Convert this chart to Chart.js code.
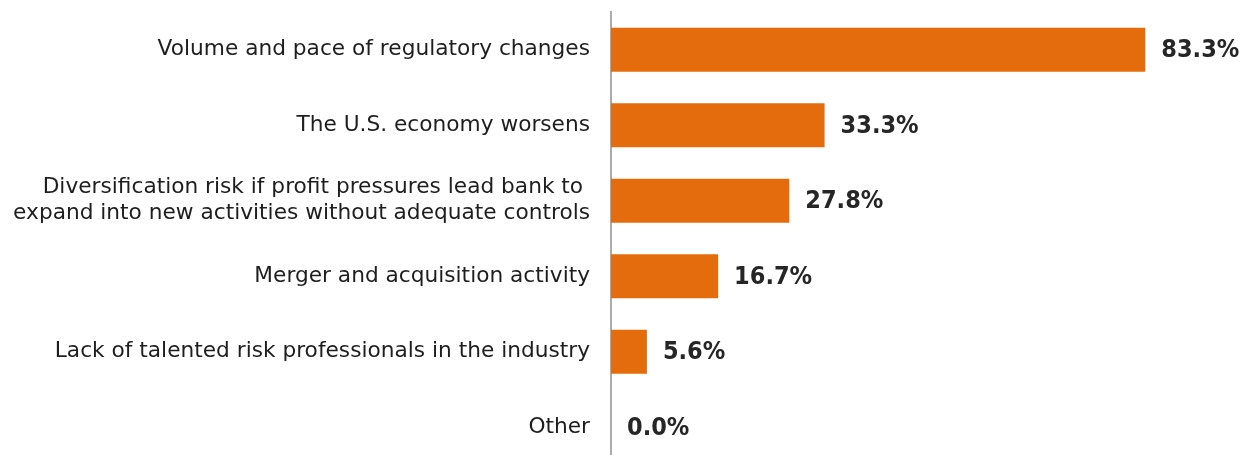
<!DOCTYPE html>
<html lang="en">
<head>
    <meta charset="UTF-8">
    <title>Risk concerns</title>
    <script src="https://cdn.jsdelivr.net/npm/chart.js"></script>
    <style>
        html, body {
            margin: 0;
            padding: 0;
            background: #ffffff;
            overflow: hidden;
        }
        .chart-box {
            width: 1247px;
            height: 465px;
            position: relative;
        }
    </style>
</head>
<body>
    <div class="chart-box">
        <canvas id="riskChart"></canvas>
    </div>

    <script>
        const categories = [
            'Volume and pace of regulatory changes',
            'The U.S. economy worsens',
            ['Diversification risk if profit pressures lead bank to ', 'expand into new activities without adequate controls'],
            'Merger and acquisition activity',
            'Lack of talented risk professionals in the industry',
            'Other'
        ];
        const percentages = [83.3, 33.3, 27.8, 16.7, 5.6, 0.0];

        // draws the bold value after each bar end
        const valueLabels = {
            id: 'valueLabels',
            afterDatasetsDraw(chart) {
                const ctx = chart.ctx;
                const meta = chart.getDatasetMeta(0);
                ctx.save();
                ctx.font = 'bold 25px "DejaVu Sans Condensed", "DejaVu Sans", sans-serif';
                ctx.fillStyle = '#262626';
                ctx.textAlign = 'left';
                ctx.textBaseline = 'middle';
                meta.data.forEach((bar, i) => {
                    ctx.fillText(percentages[i].toFixed(1) + '%', bar.x + 16, bar.y + 1);
                });
                ctx.restore();
            }
        };

        new Chart(document.getElementById('riskChart'), {
            type: 'bar',
            data: {
                labels: categories,
                datasets: [{
                    data: percentages,
                    backgroundColor: '#E46C0D',
                    borderWidth: 0,
                    barPercentage: 0.585,
                    categoryPercentage: 1.0
                }]
            },
            options: {
                indexAxis: 'y',
                responsive: true,
                maintainAspectRatio: false,
                animation: false,
                layout: { padding: { top: 12, right: 1, bottom: 0, left: 0 } },
                plugins: {
                    legend: { display: false },
                    tooltip: { enabled: false }
                },
                scales: {
                    x: {
                        min: 0,
                        max: 99,
                        display: false
                    },
                    y: {
                        afterFit(scale) {
                            scale.width = 611;
                            scale.paddingTop = 0;
                            scale.paddingBottom = 0;
                        },
                        grid: { display: false, drawTicks: false },
                        border: { display: true, color: '#ababab', width: 2 },
                        ticks: {
                            padding: 21,
                            color: '#1e1e1e',
                            font: { family: '"DejaVu Sans", sans-serif', size: 21.7, lineHeight: 1.2 }
                        }
                    }
                }
            },
            plugins: [valueLabels]
        });
    </script>
</body>
</html>
